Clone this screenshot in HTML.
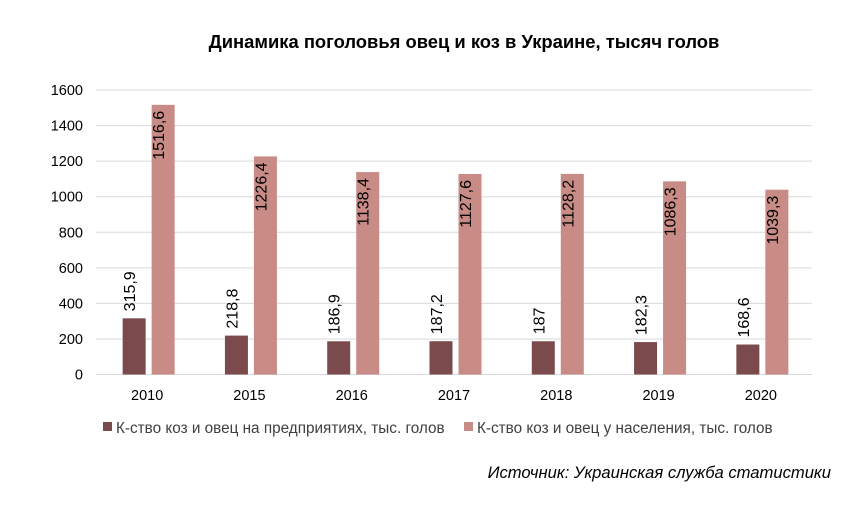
<!DOCTYPE html>
<html><head><meta charset="utf-8"><style>
body{margin:0;background:#fff;font-family:"Liberation Sans",sans-serif;}
svg text{font-family:"Liberation Sans",sans-serif;}
</style></head><body>
<svg width="868" height="511">
<text x="464" y="48" text-anchor="middle" font-weight="bold" font-size="18.4" fill="#000">Динамика поголовья овец и коз в Украине, тысяч голов</text>
<g id="grid"></g><g id="bars"></g>
<g>
<rect x="103" y="422" width="9" height="9" fill="#7a4a4c"/>
<text x="116" y="433" font-size="15.3" fill="#404040">К-ство коз и овец на предприятиях, тыс. голов</text>
<rect x="464" y="422" width="9" height="9" fill="#c98b86"/>
<text x="477" y="433" font-size="15.3" fill="#404040">К-ство коз и овец у населения, тыс. голов</text>
</g>
<text x="831" y="478" text-anchor="end" font-style="italic" font-size="16.6" fill="#000">Источник: Украинская служба статистики</text>
</svg>
<script>
const categories=["2010","2015","2016","2017","2018","2019","2020"];
const enterprises=[315.9,218.8,186.9,187.2,187,182.3,168.6];
const households=[1516.6,1226.4,1138.4,1127.6,1128.2,1086.3,1039.3];
const ticks=[0,200,400,600,800,1000,1200,1400,1600];
const NS="http://www.w3.org/2000/svg";
const x0=96,x1=812,yb=374.5,yt=90,ymax=1600;
const y=v=>yb-(v/ymax)*(yb-yt);
const band=(x1-x0)/categories.length;
const cx=i=>x0+band*(i+0.5);
const fmt=v=>String(v).replace('.',',');
function mk(tag,attrs,parent){const e=document.createElementNS(NS,tag);for(const k in attrs)e.setAttribute(k,attrs[k]);parent.appendChild(e);return e;}
const g=document.getElementById('grid'),b=document.getElementById('bars');
ticks.forEach(t=>{
 const l=mk('line',{x1:x0,x2:x1,y1:y(t),y2:y(t),stroke:'#d9d9d9','stroke-width':1},g);
 
 
 const tx=mk('text',{x:83,y:y(t)+5,'text-anchor':'end','font-size':14.5,fill:'#000'},g);
 tx.textContent=t;
 
 
});
categories.forEach((c,i)=>{
 const c0=cx(i);
 const r1=mk('rect',{x:c0-24.5,y:y(enterprises[i]),width:23,height:yb-y(enterprises[i]),fill:'#7a4a4c'},b);
 
 
 const r2=mk('rect',{x:c0+4.5,y:y(households[i]),width:23,height:yb-y(households[i]),fill:'#c98b86'},b);
 
 
 let px=c0-12,py=y(enterprises[i])-7;
 const t1=mk('text',{x:px,y:py,transform:`rotate(-90 ${px} ${py})`,'font-size':16,fill:'#000'},b);
 t1.textContent=fmt(enterprises[i]);
 
 
 px=c0+17;py=y(households[i])+6;
 const t2=mk('text',{x:px,y:py,transform:`rotate(-90 ${px} ${py})`,'text-anchor':'end','font-size':16,fill:'#000'},b);
 t2.textContent=fmt(households[i]);
 
 
 const ct=mk('text',{x:c0,y:400,'text-anchor':'middle','font-size':14.5,fill:'#000'},b);
 ct.textContent=c;
 
 
});
</script>
</body></html>
